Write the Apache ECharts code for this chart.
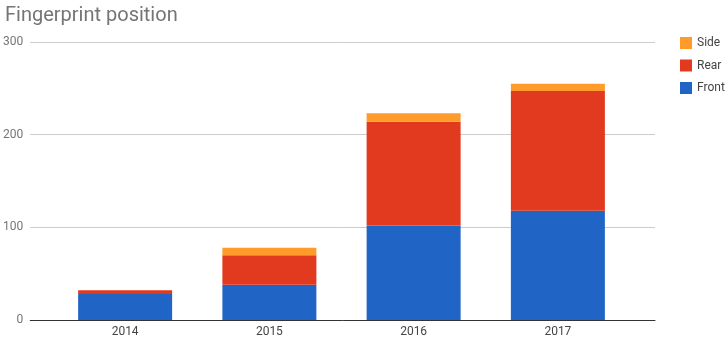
<!DOCTYPE html>
<html>
<head>
<meta charset="utf-8">
<script src="https://cdn.jsdelivr.net/npm/echarts@6/dist/echarts.min.js"></script>
<style>html,body{margin:0;padding:0;background:#fff}#c{width:727px;height:340px}</style>
</head>
<body>
<div id="c"></div>
<script>
const categories = ['2014', '2015', '2016', '2017'];
const front = [28, 38, 102, 118];
const rear = [4, 32, 112, 129];
const side = [0, 8, 9, 8];
const yTicks = [0, 100, 200, 300];

const chart = echarts.init(document.getElementById('c'), null, {renderer: 'canvas'});
const font = 'Roboto, "Noto Sans", Arial, sans-serif';
chart.setOption({
  animation: false,
  backgroundColor: '#fff',
  title: {
    text: 'Fingerprint position', left: 0, top: 1,
    textStyle: {fontFamily: font, fontSize: 20, fontWeight: 'normal', color: '#757575'}
  },
  legend: {
    data: ['Side', 'Rear', 'Front'], orient: 'vertical', left: 675, top: 32,
    itemWidth: 12, itemHeight: 12, itemGap: 10.5, icon: 'rect',
    textStyle: {fontFamily: font, fontSize: 12, color: '#444'}
  },
  grid: [
    {left: 27, right: 72, top: 42, bottom: 20},
    {left: 53, right: 97, top: 42, bottom: 20}
  ],
  xAxis: [
    {type: 'value', gridIndex: 0, min: 0, max: 1, show: true,
     axisLine: {show: true, lineStyle: {color: '#333', width: 1}}, axisTick: {show: false},
     axisLabel: {show: false}, splitLine: {show: false}},
    {type: 'category', gridIndex: 1, data: categories,
     axisLine: {show: false}, axisTick: {show: false},
     axisLabel: {fontFamily: font, fontSize: 12, color: '#444', margin: 6}}
  ],
  yAxis: [
    {type: 'value', gridIndex: 0, min: yTicks[0], max: yTicks[yTicks.length - 1], interval: 100,
     axisLine: {show: false}, axisTick: {show: false},
     axisLabel: {fontFamily: font, fontSize: 12, color: '#757575', margin: 7},
     splitLine: {lineStyle: {color: '#ccc', width: 1}}},
    {type: 'value', gridIndex: 1, min: 0, max: 300, interval: 100, show: false}
  ],
  series: [
    {name: 'Front', type: 'bar', stack: 's', xAxisIndex: 1, yAxisIndex: 1, data: front, barWidth: 94, itemStyle: {color: '#2065C6'}},
    {name: 'Rear', type: 'bar', stack: 's', xAxisIndex: 1, yAxisIndex: 1, data: rear, barWidth: 94, itemStyle: {color: '#E23A1E'}},
    {name: 'Side', type: 'bar', stack: 's', xAxisIndex: 1, yAxisIndex: 1, data: side, barWidth: 94, itemStyle: {color: '#FF9B2A'}}
  ]
});
</script>
</body>
</html>
